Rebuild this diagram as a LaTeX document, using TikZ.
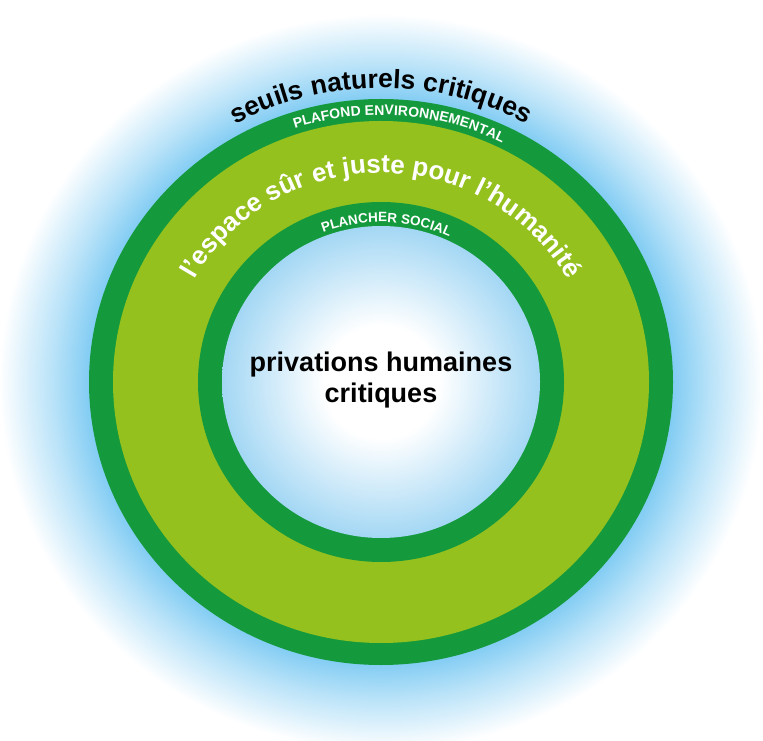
\documentclass[tikz,border=0pt]{standalone}
\usepackage{fontspec}
\setmainfont{Liberation Sans}
\usepackage{tikz}
\usetikzlibrary{decorations.text}

\definecolor{ringdark}{HTML}{149A3C}
\definecolor{ringlight}{HTML}{95C11F}
\definecolor{glowblue}{HTML}{7FCBF3}
\definecolor{coreblue}{HTML}{A3D7F4}

% blue halo around the doughnut and pale core inside it
\pgfdeclareradialshading{glowshade}{\pgfpointorigin}{color(0bp)=(glowblue); color(19bp)=(glowblue); color(21.5bp)=(glowblue!55!white); color(25bp)=(white); color(50bp)=(white)}
\pgfdeclareradialshading{coreshade}{\pgfpointorigin}{color(0bp)=(white); color(9bp)=(white); color(25bp)=(coreblue); color(50bp)=(coreblue)}

\tikzset{
  ringtext/.style={decorate, decoration={text along path, text align=center, text color=#1}},
  bigfont/.style={font=\bfseries\fontsize{27}{31}\selectfont}
}

\begin{document}
\begin{tikzpicture}[x=1pt,y=1pt]
\useasboundingbox (0,0) rectangle (763,740);
\fill[white] (0,0) rectangle (763,740);
\coordinate (ctr) at (381,358);

\shade[shading=glowshade] (ctr) ellipse [x radius=382, y radius=368];
\fill[ringdark] (ctr) ellipse [x radius=292, y radius=283];
\fill[ringlight] (ctr) ellipse [x radius=268, y radius=261];
\fill[ringdark] (ctr) ellipse [x radius=183, y radius=180];
\shade[shading=coreshade] (ctr) ellipse [x radius=159, y radius=156];

\node[bigfont, align=center] (privations) at (381,360) {privations humaines\\critiques};

\path[ringtext=black, decoration={text={|\bfseries\fontsize{26.5}{30}\selectfont|seuils naturels critiques}}]
  (ctr) ++(130:303 and 294) arc[start angle=130, end angle=50, x radius=303, y radius=294];
\path[ringtext=white, decoration={text={|\bfseries\fontsize{14}{16}\selectfont|PLAFOND ENVIRONNEMENTAL}}]
  (ctr) ++(126:274 and 267) arc[start angle=126, end angle=46, x radius=274, y radius=267];
\path[ringtext=white, decoration={text={|\bfseries\fontsize{26}{30}\selectfont|l’espace sûr et juste pour l’humanité}}]
  (ctr) ++(165:214 and 209) arc[start angle=165, end angle=15, x radius=214, y radius=209];
\path[ringtext=white, decoration={text={|\bfseries\fontsize{13.5}{16}\selectfont|PLANCHER SOCIAL}}]
  (ctr) ++(128:163 and 160) arc[start angle=128, end angle=48, x radius=163, y radius=160];
\end{tikzpicture}
\end{document}
